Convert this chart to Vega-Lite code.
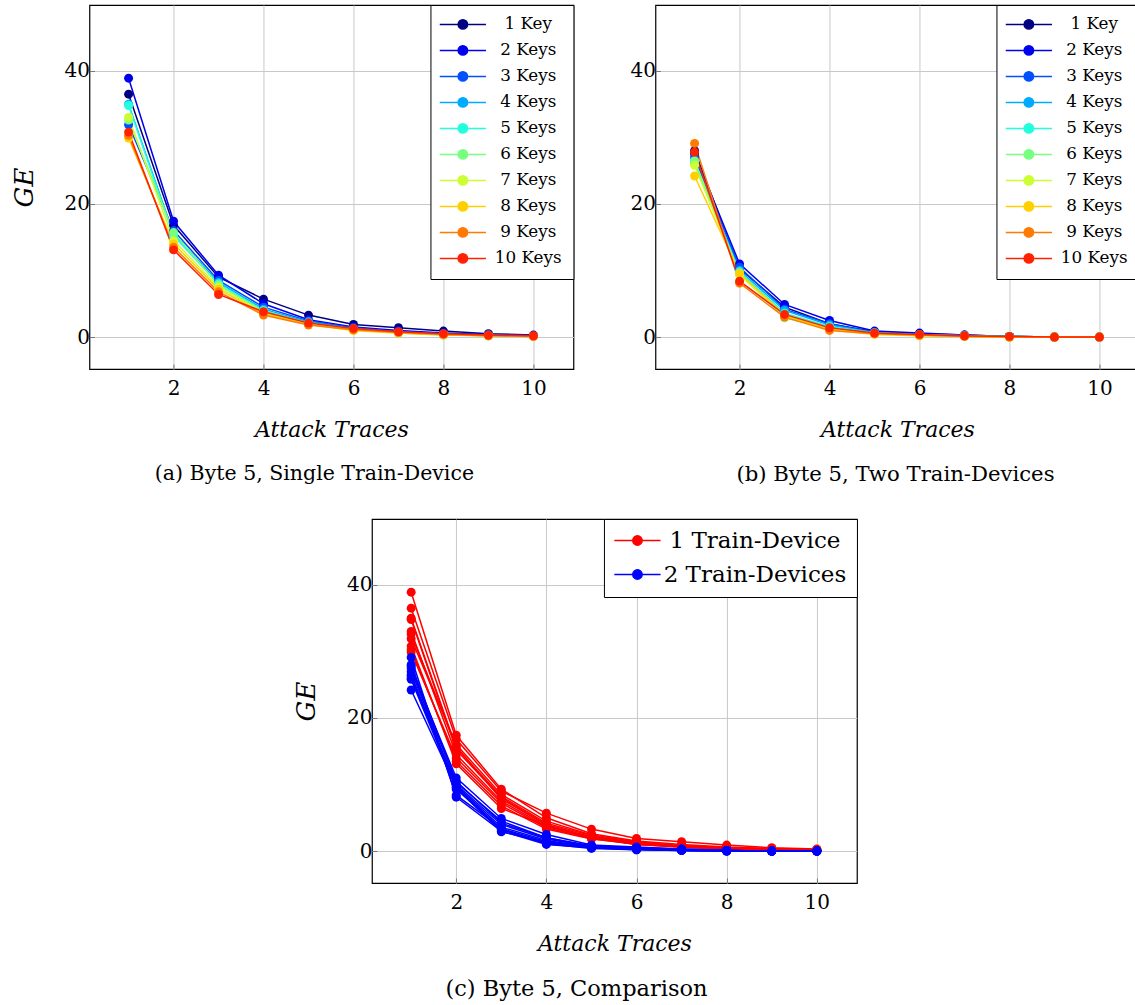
{
  "$schema": "https://vega.github.io/schema/vega-lite/v6.json",
  "background": "white",
  "padding": {"left": 10, "top": 3, "right": 0, "bottom": 0},
  "config": {
    "font": "DejaVu Serif",
    "view": {"stroke": "black", "strokeWidth": 1.2},
    "axis": {
      "grid": true, "gridColor": "#c8c8c8", "gridWidth": 1,
      "domain": false,
      "labelFont": "DejaVu Serif", "labelFontSize": 20, "labelColor": "black",
      "titleFont": "DejaVu Serif", "titleFontSize": 22, "titleFontStyle": "italic", "titleFontWeight": "normal", "titleColor": "black",
      "tickColor": "#777", "tickSize": -5
    },
    "axisX": {"labelPadding": 14, "titlePadding": 21},
    "axisY": {"labelPadding": 5, "titlePadding": 27, "titleFontSize": 26},
    "legend": {
      "labelFont": "DejaVu Serif", "labelColor": "black", "labelLimit": 400,
      "strokeColor": "black", "fillColor": "white", "cornerRadius": 0,
      "symbolType": "M-3.3,0H3.3M0.67,0A0.67,0.67,0,1,1,-0.67,0A0.67,0.67,0,1,1,0.67,0Z",
      "symbolSize": 196, "symbolStrokeWidth": 1.5, "offset": 0, "title": null
    },
    "title": {"font": "DejaVu Serif", "fontSize": 20.5, "fontWeight": "normal", "color": "black",
              "orient": "bottom", "anchor": "middle", "offset": 24}
  },
  "datasets": {
    "ge": [
      {"device":"1 Train-Device","keys":"1 Key","trace":1,"ge":36.5},{"device":"1 Train-Device","keys":"1 Key","trace":2,"ge":16.8},{"device":"1 Train-Device","keys":"1 Key","trace":3,"ge":9.0},{"device":"1 Train-Device","keys":"1 Key","trace":4,"ge":5.7},{"device":"1 Train-Device","keys":"1 Key","trace":5,"ge":3.3},{"device":"1 Train-Device","keys":"1 Key","trace":6,"ge":1.9},{"device":"1 Train-Device","keys":"1 Key","trace":7,"ge":1.4},{"device":"1 Train-Device","keys":"1 Key","trace":8,"ge":0.9},{"device":"1 Train-Device","keys":"1 Key","trace":9,"ge":0.5},{"device":"1 Train-Device","keys":"1 Key","trace":10,"ge":0.3},
      {"device":"1 Train-Device","keys":"2 Keys","trace":1,"ge":38.9},{"device":"1 Train-Device","keys":"2 Keys","trace":2,"ge":17.4},{"device":"1 Train-Device","keys":"2 Keys","trace":3,"ge":9.3},{"device":"1 Train-Device","keys":"2 Keys","trace":4,"ge":5.0},{"device":"1 Train-Device","keys":"2 Keys","trace":5,"ge":2.6},{"device":"1 Train-Device","keys":"2 Keys","trace":6,"ge":1.5},{"device":"1 Train-Device","keys":"2 Keys","trace":7,"ge":1.0},{"device":"1 Train-Device","keys":"2 Keys","trace":8,"ge":0.6},{"device":"1 Train-Device","keys":"2 Keys","trace":9,"ge":0.4},{"device":"1 Train-Device","keys":"2 Keys","trace":10,"ge":0.2},
      {"device":"1 Train-Device","keys":"3 Keys","trace":1,"ge":31.9},{"device":"1 Train-Device","keys":"3 Keys","trace":2,"ge":16.0},{"device":"1 Train-Device","keys":"3 Keys","trace":3,"ge":8.5},{"device":"1 Train-Device","keys":"3 Keys","trace":4,"ge":4.5},{"device":"1 Train-Device","keys":"3 Keys","trace":5,"ge":2.4},{"device":"1 Train-Device","keys":"3 Keys","trace":6,"ge":1.4},{"device":"1 Train-Device","keys":"3 Keys","trace":7,"ge":0.8},{"device":"1 Train-Device","keys":"3 Keys","trace":8,"ge":0.5},{"device":"1 Train-Device","keys":"3 Keys","trace":9,"ge":0.3},{"device":"1 Train-Device","keys":"3 Keys","trace":10,"ge":0.2},
      {"device":"1 Train-Device","keys":"4 Keys","trace":1,"ge":35.0},{"device":"1 Train-Device","keys":"4 Keys","trace":2,"ge":15.5},{"device":"1 Train-Device","keys":"4 Keys","trace":3,"ge":8.2},{"device":"1 Train-Device","keys":"4 Keys","trace":4,"ge":4.2},{"device":"1 Train-Device","keys":"4 Keys","trace":5,"ge":2.3},{"device":"1 Train-Device","keys":"4 Keys","trace":6,"ge":1.2},{"device":"1 Train-Device","keys":"4 Keys","trace":7,"ge":0.7},{"device":"1 Train-Device","keys":"4 Keys","trace":8,"ge":0.4},{"device":"1 Train-Device","keys":"4 Keys","trace":9,"ge":0.3},{"device":"1 Train-Device","keys":"4 Keys","trace":10,"ge":0.1},
      {"device":"1 Train-Device","keys":"5 Keys","trace":1,"ge":34.8},{"device":"1 Train-Device","keys":"5 Keys","trace":2,"ge":15.2},{"device":"1 Train-Device","keys":"5 Keys","trace":3,"ge":8.0},{"device":"1 Train-Device","keys":"5 Keys","trace":4,"ge":4.0},{"device":"1 Train-Device","keys":"5 Keys","trace":5,"ge":2.1},{"device":"1 Train-Device","keys":"5 Keys","trace":6,"ge":1.1},{"device":"1 Train-Device","keys":"5 Keys","trace":7,"ge":0.6},{"device":"1 Train-Device","keys":"5 Keys","trace":8,"ge":0.3},{"device":"1 Train-Device","keys":"5 Keys","trace":9,"ge":0.2},{"device":"1 Train-Device","keys":"5 Keys","trace":10,"ge":0.1},
      {"device":"1 Train-Device","keys":"6 Keys","trace":1,"ge":32.6},{"device":"1 Train-Device","keys":"6 Keys","trace":2,"ge":15.7},{"device":"1 Train-Device","keys":"6 Keys","trace":3,"ge":7.8},{"device":"1 Train-Device","keys":"6 Keys","trace":4,"ge":3.9},{"device":"1 Train-Device","keys":"6 Keys","trace":5,"ge":2.0},{"device":"1 Train-Device","keys":"6 Keys","trace":6,"ge":1.2},{"device":"1 Train-Device","keys":"6 Keys","trace":7,"ge":0.7},{"device":"1 Train-Device","keys":"6 Keys","trace":8,"ge":0.4},{"device":"1 Train-Device","keys":"6 Keys","trace":9,"ge":0.2},{"device":"1 Train-Device","keys":"6 Keys","trace":10,"ge":0.1},
      {"device":"1 Train-Device","keys":"7 Keys","trace":1,"ge":33.0},{"device":"1 Train-Device","keys":"7 Keys","trace":2,"ge":14.5},{"device":"1 Train-Device","keys":"7 Keys","trace":3,"ge":7.5},{"device":"1 Train-Device","keys":"7 Keys","trace":4,"ge":3.7},{"device":"1 Train-Device","keys":"7 Keys","trace":5,"ge":2.0},{"device":"1 Train-Device","keys":"7 Keys","trace":6,"ge":1.0},{"device":"1 Train-Device","keys":"7 Keys","trace":7,"ge":0.6},{"device":"1 Train-Device","keys":"7 Keys","trace":8,"ge":0.4},{"device":"1 Train-Device","keys":"7 Keys","trace":9,"ge":0.2},{"device":"1 Train-Device","keys":"7 Keys","trace":10,"ge":0.1},
      {"device":"1 Train-Device","keys":"8 Keys","trace":1,"ge":29.9},{"device":"1 Train-Device","keys":"8 Keys","trace":2,"ge":14.0},{"device":"1 Train-Device","keys":"8 Keys","trace":3,"ge":7.2},{"device":"1 Train-Device","keys":"8 Keys","trace":4,"ge":3.5},{"device":"1 Train-Device","keys":"8 Keys","trace":5,"ge":1.9},{"device":"1 Train-Device","keys":"8 Keys","trace":6,"ge":1.0},{"device":"1 Train-Device","keys":"8 Keys","trace":7,"ge":0.6},{"device":"1 Train-Device","keys":"8 Keys","trace":8,"ge":0.3},{"device":"1 Train-Device","keys":"8 Keys","trace":9,"ge":0.2},{"device":"1 Train-Device","keys":"8 Keys","trace":10,"ge":0.1},
      {"device":"1 Train-Device","keys":"9 Keys","trace":1,"ge":30.3},{"device":"1 Train-Device","keys":"9 Keys","trace":2,"ge":13.5},{"device":"1 Train-Device","keys":"9 Keys","trace":3,"ge":6.8},{"device":"1 Train-Device","keys":"9 Keys","trace":4,"ge":3.3},{"device":"1 Train-Device","keys":"9 Keys","trace":5,"ge":1.8},{"device":"1 Train-Device","keys":"9 Keys","trace":6,"ge":1.1},{"device":"1 Train-Device","keys":"9 Keys","trace":7,"ge":0.7},{"device":"1 Train-Device","keys":"9 Keys","trace":8,"ge":0.4},{"device":"1 Train-Device","keys":"9 Keys","trace":9,"ge":0.2},{"device":"1 Train-Device","keys":"9 Keys","trace":10,"ge":0.1},
      {"device":"1 Train-Device","keys":"10 Keys","trace":1,"ge":30.8},{"device":"1 Train-Device","keys":"10 Keys","trace":2,"ge":13.1},{"device":"1 Train-Device","keys":"10 Keys","trace":3,"ge":6.4},{"device":"1 Train-Device","keys":"10 Keys","trace":4,"ge":3.8},{"device":"1 Train-Device","keys":"10 Keys","trace":5,"ge":2.1},{"device":"1 Train-Device","keys":"10 Keys","trace":6,"ge":1.3},{"device":"1 Train-Device","keys":"10 Keys","trace":7,"ge":0.8},{"device":"1 Train-Device","keys":"10 Keys","trace":8,"ge":0.5},{"device":"1 Train-Device","keys":"10 Keys","trace":9,"ge":0.3},{"device":"1 Train-Device","keys":"10 Keys","trace":10,"ge":0.2},
      {"device":"2 Train-Devices","keys":"1 Key","trace":1,"ge":28.0},{"device":"2 Train-Devices","keys":"1 Key","trace":2,"ge":10.3},{"device":"2 Train-Devices","keys":"1 Key","trace":3,"ge":4.5},{"device":"2 Train-Devices","keys":"1 Key","trace":4,"ge":2.0},{"device":"2 Train-Devices","keys":"1 Key","trace":5,"ge":0.8},{"device":"2 Train-Devices","keys":"1 Key","trace":6,"ge":0.5},{"device":"2 Train-Devices","keys":"1 Key","trace":7,"ge":0.3},{"device":"2 Train-Devices","keys":"1 Key","trace":8,"ge":0.1},{"device":"2 Train-Devices","keys":"1 Key","trace":9,"ge":0.0},{"device":"2 Train-Devices","keys":"1 Key","trace":10,"ge":0.0},
      {"device":"2 Train-Devices","keys":"2 Keys","trace":1,"ge":27.5},{"device":"2 Train-Devices","keys":"2 Keys","trace":2,"ge":11.0},{"device":"2 Train-Devices","keys":"2 Keys","trace":3,"ge":4.9},{"device":"2 Train-Devices","keys":"2 Keys","trace":4,"ge":2.5},{"device":"2 Train-Devices","keys":"2 Keys","trace":5,"ge":0.9},{"device":"2 Train-Devices","keys":"2 Keys","trace":6,"ge":0.6},{"device":"2 Train-Devices","keys":"2 Keys","trace":7,"ge":0.3},{"device":"2 Train-Devices","keys":"2 Keys","trace":8,"ge":0.1},{"device":"2 Train-Devices","keys":"2 Keys","trace":9,"ge":0.0},{"device":"2 Train-Devices","keys":"2 Keys","trace":10,"ge":0.0},
      {"device":"2 Train-Devices","keys":"3 Keys","trace":1,"ge":27.0},{"device":"2 Train-Devices","keys":"3 Keys","trace":2,"ge":10.5},{"device":"2 Train-Devices","keys":"3 Keys","trace":3,"ge":4.2},{"device":"2 Train-Devices","keys":"3 Keys","trace":4,"ge":2.0},{"device":"2 Train-Devices","keys":"3 Keys","trace":5,"ge":0.7},{"device":"2 Train-Devices","keys":"3 Keys","trace":6,"ge":0.4},{"device":"2 Train-Devices","keys":"3 Keys","trace":7,"ge":0.2},{"device":"2 Train-Devices","keys":"3 Keys","trace":8,"ge":0.1},{"device":"2 Train-Devices","keys":"3 Keys","trace":9,"ge":0.0},{"device":"2 Train-Devices","keys":"3 Keys","trace":10,"ge":0.0},
      {"device":"2 Train-Devices","keys":"4 Keys","trace":1,"ge":26.3},{"device":"2 Train-Devices","keys":"4 Keys","trace":2,"ge":10.0},{"device":"2 Train-Devices","keys":"4 Keys","trace":3,"ge":4.0},{"device":"2 Train-Devices","keys":"4 Keys","trace":4,"ge":1.8},{"device":"2 Train-Devices","keys":"4 Keys","trace":5,"ge":0.7},{"device":"2 Train-Devices","keys":"4 Keys","trace":6,"ge":0.4},{"device":"2 Train-Devices","keys":"4 Keys","trace":7,"ge":0.2},{"device":"2 Train-Devices","keys":"4 Keys","trace":8,"ge":0.1},{"device":"2 Train-Devices","keys":"4 Keys","trace":9,"ge":0.0},{"device":"2 Train-Devices","keys":"4 Keys","trace":10,"ge":0.0},
      {"device":"2 Train-Devices","keys":"5 Keys","trace":1,"ge":26.0},{"device":"2 Train-Devices","keys":"5 Keys","trace":2,"ge":9.8},{"device":"2 Train-Devices","keys":"5 Keys","trace":3,"ge":3.6},{"device":"2 Train-Devices","keys":"5 Keys","trace":4,"ge":1.6},{"device":"2 Train-Devices","keys":"5 Keys","trace":5,"ge":0.6},{"device":"2 Train-Devices","keys":"5 Keys","trace":6,"ge":0.3},{"device":"2 Train-Devices","keys":"5 Keys","trace":7,"ge":0.2},{"device":"2 Train-Devices","keys":"5 Keys","trace":8,"ge":0.1},{"device":"2 Train-Devices","keys":"5 Keys","trace":9,"ge":0.0},{"device":"2 Train-Devices","keys":"5 Keys","trace":10,"ge":0.0},
      {"device":"2 Train-Devices","keys":"6 Keys","trace":1,"ge":26.5},{"device":"2 Train-Devices","keys":"6 Keys","trace":2,"ge":9.5},{"device":"2 Train-Devices","keys":"6 Keys","trace":3,"ge":2.9},{"device":"2 Train-Devices","keys":"6 Keys","trace":4,"ge":1.3},{"device":"2 Train-Devices","keys":"6 Keys","trace":5,"ge":0.5},{"device":"2 Train-Devices","keys":"6 Keys","trace":6,"ge":0.3},{"device":"2 Train-Devices","keys":"6 Keys","trace":7,"ge":0.1},{"device":"2 Train-Devices","keys":"6 Keys","trace":8,"ge":0.0},{"device":"2 Train-Devices","keys":"6 Keys","trace":9,"ge":0.0},{"device":"2 Train-Devices","keys":"6 Keys","trace":10,"ge":0.0},
      {"device":"2 Train-Devices","keys":"7 Keys","trace":1,"ge":25.8},{"device":"2 Train-Devices","keys":"7 Keys","trace":2,"ge":9.3},{"device":"2 Train-Devices","keys":"7 Keys","trace":3,"ge":3.2},{"device":"2 Train-Devices","keys":"7 Keys","trace":4,"ge":1.2},{"device":"2 Train-Devices","keys":"7 Keys","trace":5,"ge":0.5},{"device":"2 Train-Devices","keys":"7 Keys","trace":6,"ge":0.2},{"device":"2 Train-Devices","keys":"7 Keys","trace":7,"ge":0.1},{"device":"2 Train-Devices","keys":"7 Keys","trace":8,"ge":0.0},{"device":"2 Train-Devices","keys":"7 Keys","trace":9,"ge":0.0},{"device":"2 Train-Devices","keys":"7 Keys","trace":10,"ge":0.0},
      {"device":"2 Train-Devices","keys":"8 Keys","trace":1,"ge":24.2},{"device":"2 Train-Devices","keys":"8 Keys","trace":2,"ge":9.6},{"device":"2 Train-Devices","keys":"8 Keys","trace":3,"ge":3.3},{"device":"2 Train-Devices","keys":"8 Keys","trace":4,"ge":1.1},{"device":"2 Train-Devices","keys":"8 Keys","trace":5,"ge":0.4},{"device":"2 Train-Devices","keys":"8 Keys","trace":6,"ge":0.2},{"device":"2 Train-Devices","keys":"8 Keys","trace":7,"ge":0.1},{"device":"2 Train-Devices","keys":"8 Keys","trace":8,"ge":0.0},{"device":"2 Train-Devices","keys":"8 Keys","trace":9,"ge":0.0},{"device":"2 Train-Devices","keys":"8 Keys","trace":10,"ge":0.0},
      {"device":"2 Train-Devices","keys":"9 Keys","trace":1,"ge":29.1},{"device":"2 Train-Devices","keys":"9 Keys","trace":2,"ge":8.1},{"device":"2 Train-Devices","keys":"9 Keys","trace":3,"ge":3.0},{"device":"2 Train-Devices","keys":"9 Keys","trace":4,"ge":1.0},{"device":"2 Train-Devices","keys":"9 Keys","trace":5,"ge":0.5},{"device":"2 Train-Devices","keys":"9 Keys","trace":6,"ge":0.3},{"device":"2 Train-Devices","keys":"9 Keys","trace":7,"ge":0.1},{"device":"2 Train-Devices","keys":"9 Keys","trace":8,"ge":0.0},{"device":"2 Train-Devices","keys":"9 Keys","trace":9,"ge":0.0},{"device":"2 Train-Devices","keys":"9 Keys","trace":10,"ge":0.0},
      {"device":"2 Train-Devices","keys":"10 Keys","trace":1,"ge":27.8},{"device":"2 Train-Devices","keys":"10 Keys","trace":2,"ge":8.4},{"device":"2 Train-Devices","keys":"10 Keys","trace":3,"ge":3.4},{"device":"2 Train-Devices","keys":"10 Keys","trace":4,"ge":1.4},{"device":"2 Train-Devices","keys":"10 Keys","trace":5,"ge":0.6},{"device":"2 Train-Devices","keys":"10 Keys","trace":6,"ge":0.4},{"device":"2 Train-Devices","keys":"10 Keys","trace":7,"ge":0.2},{"device":"2 Train-Devices","keys":"10 Keys","trace":8,"ge":0.1},{"device":"2 Train-Devices","keys":"10 Keys","trace":9,"ge":0.0},{"device":"2 Train-Devices","keys":"10 Keys","trace":10,"ge":0.0}
    ]
  },
  "spacing": 31,
  "center": true,
  "vconcat": [
    {
      "spacing": 53,
      "hconcat": [
        {
          "width": 484, "height": 364,
          "data": {"name": "ge"},
          "transform": [{"filter": "datum.device == '1 Train-Device'"}],
          "title": {"text": "(a) Byte 5, Single Train-Device", "dx": -17},
          "mark": {"type": "line", "strokeWidth": 1.5, "point": {"filled": true, "size": 80}},
          "encoding": {
            "x": {"field": "trace", "type": "quantitative", "scale": {"domain": [0.13, 10.89], "nice": false, "zero": false}, "axis": {"values": [2, 4, 6, 8, 10], "title": "Attack Traces"}},
            "y": {"field": "ge", "type": "quantitative", "scale": {"domain": [-4.8, 49.9], "nice": false, "zero": false}, "axis": {"values": [0, 20, 40], "title": "GE"}},
            "color": {"field": "keys", "type": "nominal",
              "scale": {"domain": ["1 Key","2 Keys","3 Keys","4 Keys","5 Keys","6 Keys","7 Keys","8 Keys","9 Keys","10 Keys"],
                        "range": ["#000080","#0000ee","#0050ff","#00aaff","#22ffdd","#77ff80","#ccff33","#ffd000","#ff7a00","#ff2200"]},
              "legend": {"orient": "top-right", "labelFontSize": 16.8, "labelAlign": "center", "labelOffset": 57, "symbolOffset": 13, "padding": 11, "rowPadding": 8}}
          }
        },
        {
          "width": 484, "height": 364,
          "data": {"name": "ge"},
          "transform": [{"filter": "datum.device == '2 Train-Devices'"}],
          "title": {"text": "(b) Byte 5, Two Train-Devices", "dx": -2, "fontSize": 21.2},
          "mark": {"type": "line", "strokeWidth": 1.5, "point": {"filled": true, "size": 80}},
          "encoding": {
            "x": {"field": "trace", "type": "quantitative", "scale": {"domain": [0.13, 10.89], "nice": false, "zero": false}, "axis": {"values": [2, 4, 6, 8, 10], "title": "Attack Traces"}},
            "y": {"field": "ge", "type": "quantitative", "scale": {"domain": [-4.8, 49.9], "nice": false, "zero": false}, "axis": {"values": [0, 20, 40], "title": null}},
            "color": {"field": "keys", "type": "nominal",
              "scale": {"domain": ["1 Key","2 Keys","3 Keys","4 Keys","5 Keys","6 Keys","7 Keys","8 Keys","9 Keys","10 Keys"],
                        "range": ["#000080","#0000ee","#0050ff","#00aaff","#22ffdd","#77ff80","#ccff33","#ffd000","#ff7a00","#ff2200"]},
              "legend": {"orient": "top-right", "labelFontSize": 16.8, "labelAlign": "center", "labelOffset": 57, "symbolOffset": 13, "padding": 11, "rowPadding": 8}}
          }
        }
      ],
      "resolve": {"scale": {"color": "independent"}, "legend": {"color": "independent"}}
    },
    {
      "width": 485, "height": 364,
      "data": {"name": "ge"},
      "title": {"text": "(c) Byte 5, Comparison", "dx": -38, "fontSize": 22.5},
      "mark": {"type": "line", "strokeWidth": 1.5, "point": {"filled": true, "size": 80}},
      "encoding": {
        "x": {"field": "trace", "type": "quantitative", "scale": {"domain": [0.13, 10.89], "nice": false, "zero": false}, "axis": {"values": [2, 4, 6, 8, 10], "title": "Attack Traces"}},
        "y": {"field": "ge", "type": "quantitative", "scale": {"domain": [-4.8, 49.9], "nice": false, "zero": false}, "axis": {"values": [0, 20, 40], "title": "GE"}},
        "detail": {"field": "keys", "type": "nominal"},
        "color": {"field": "device", "type": "nominal",
          "scale": {"domain": ["1 Train-Device", "2 Train-Devices"], "range": ["#ff0000", "#0000ff"]},
          "legend": {"orient": "top-right", "labelFontSize": 23, "labelAlign": "center", "labelOffset": 106, "symbolOffset": 12, "padding": 10, "rowPadding": 10}}
      }
    }
  ],
  "resolve": {"scale": {"color": "independent"}, "legend": {"color": "independent"}}
}
